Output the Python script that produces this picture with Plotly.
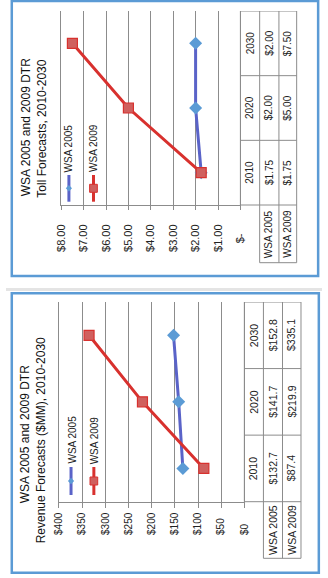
import plotly.graph_objects as go

# ---------------- data ----------------
years = ["2010", "2020", "2030"]
series_names = ["WSA 2005", "WSA 2009"]

toll_wsa2005 = [1.75, 2.00, 2.00]
toll_wsa2009 = [1.75, 5.00, 7.50]
toll_tick_vals = [0, 1, 2, 3, 4, 5, 6, 7, 8]
toll_tick_text = ["$-" + "\u00a0" * 3, "$1.00", "$2.00", "$3.00", "$4.00",
                  "$5.00", "$6.00", "$7.00", "$8.00"]
toll_title = ["WSA 2005 and 2009 DTR", "Toll Forecasts, 2010-2030"]

revenue_wsa2005 = [132.7, 141.7, 152.8]
revenue_wsa2009 = [87.4, 219.9, 335.1]
revenue_tick_vals = [0, 50, 100, 150, 200, 250, 300, 350, 400]
revenue_tick_text = ["$0" + "\u00a0" * 4, "$50" + "\u00a0" * 2, "$100", "$150",
                     "$200", "$250", "$300", "$350", "$400"]
revenue_title = ["WSA 2005 and 2009 DTR", "Revenue Forecasts ($MM), 2010-2030"]

# ---------------- styling ----------------
W, H = 328, 578
FONT = "Liberation Sans, Arial, sans-serif"
BLUE_LINE = "#5A63C8"
BLUE_MARK = "#5B9BD5"
RED_LINE = "#D8312E"
RED_MARK = "#D0605E"
GRID = "#8C8C8C"
BORDER = "#5B9BD5"
TXT = "#222222"


def px(x):
    return x / W


def py(y):
    return 1 - y / H


panels = [
    dict(ax="", vals=[toll_wsa2005, toll_wsa2009], fmt="${:.2f}",
         ticks=(toll_tick_vals, toll_tick_text), rng=[8, 0], title=toll_title,
         px0=57.3, px1=243.3, py0=11, py1=205,
         cols=[243.3, 263.3, 283.3, 301.7], box_bottom=262.7,
         border=(6, 1, 324, 276), tickfont=11, ticklen=4, standoff=10,
         tfont=10, lfont=10,
         title_pos=[(21, 127), (37, 129)],
         legend_x=[65.3, 90.8], legend_y=(175, 201.7), legend_mark=188.3),
    dict(ax="2", vals=[revenue_wsa2005, revenue_wsa2009], fmt="${:.1f}",
         ticks=(revenue_tick_vals, revenue_tick_text), rng=[400, 0], title=revenue_title,
         px0=55.0, px1=247.4, py0=302, py1=501.7,
         cols=[247.4, 267.2, 287.0, 306.2], box_bottom=558.3,
         border=(6, 293.3, 324.7, 572.8), tickfont=10, ticklen=5, standoff=1,
         tfont=10.5, lfont=10,
         title_pos=[(20, 434), (36.7, 440)],
         legend_x=[67.5, 91.2], legend_y=(467, 495), legend_mark=481),
]

fig = go.Figure()
shapes = []
annotations = []


def rot_text(x, y, text, size, yref="paper", color=TXT, yanchor="middle"):
    return dict(x=x, y=y, xref="paper", yref=yref, text=text, showarrow=False,
                textangle=-90, xanchor="center", yanchor=yanchor,
                font=dict(family=FONT, size=size, color=color))


# faint separator between the two chart objects
shapes.append(dict(type="line", xref="paper", yref="paper", x0=0, x1=1,
                   y0=py(289.5), y1=py(289.5), line=dict(color="#E4E4E4", width=3)))

for p in panels:
    ax = p["ax"]
    xa = "x" + ax
    ya = "y" + ax
    # traces
    styles = [
        dict(line=dict(color=BLUE_LINE, width=3),
             marker=dict(symbol="diamond", size=10, color=BLUE_MARK,
                         line=dict(color=BLUE_MARK, width=0))),
        dict(line=dict(color=RED_LINE, width=3),
             marker=dict(symbol="square", size=10, color=RED_MARK,
                         line=dict(color=RED_LINE, width=1.2))),
    ]
    for name, vals, st in zip(series_names, p["vals"], styles):
        fig.add_trace(go.Scatter(x=vals, y=years, name=name, mode="lines+markers",
                                 xaxis=xa, yaxis=ya, showlegend=False,
                                 line=st["line"], marker=st["marker"],
                                 hoverinfo="skip"))
    tv, tt = p["ticks"]
    fig.update_layout(**{
        "xaxis" + ax: dict(domain=[px(p["px0"]), px(p["px1"])], range=p["rng"],
                           anchor=ya, tickmode="array", tickvals=tv, ticktext=tt,
                           tickangle=-90, ticks="outside", ticklen=p["ticklen"],
                           tickcolor=GRID, tickwidth=1, showgrid=True,
                           gridcolor=GRID, gridwidth=1, showline=True,
                           linecolor=GRID, linewidth=1, zeroline=False,
                           ticklabelstandoff=p["standoff"],
                           tickfont=dict(family=FONT, size=p["tickfont"], color=TXT),
                           fixedrange=True),
        "yaxis" + ax: dict(domain=[py(p["py1"]), py(p["py0"])], anchor=xa,
                           type="category", categoryorder="array",
                           categoryarray=years, range=[-0.5, 2.5],
                           showticklabels=False, ticks="", showgrid=False,
                           showline=True, mirror=True, linecolor=GRID,
                           linewidth=1, zeroline=False, fixedrange=True),
    })

    # outer chart border
    bx0, by0, bx1, by1 = p["border"]
    shapes.append(dict(type="rect", xref="paper", yref="paper",
                       x0=px(bx0), x1=px(bx1), y0=py(by0), y1=py(by1),
                       line=dict(color=BORDER, width=2.5)))

    # data table
    c = p["cols"]
    tl = dict(color=GRID, width=1)
    shapes.append(dict(type="line", xref="paper", yref="paper", x0=px(c[0]), x1=px(c[0]),
                       y0=py(p["py0"]), y1=py(p["py1"]), line=tl))
    for cx in c[1:]:
        shapes.append(dict(type="line", xref="paper", yref="paper", x0=px(cx), x1=px(cx),
                           y0=py(p["py0"]), y1=py(p["box_bottom"]), line=tl))
    for b in [0.5, 1.5, 2.5]:
        shapes.append(dict(type="line", xref="paper", yref=ya, x0=px(c[0]), x1=px(c[3]),
                           y0=b, y1=b, line=tl))
    shapes.append(dict(type="line", xref="paper", yref="paper", x0=px(p["px1"]), x1=px(c[3]),
                       y0=py(p["py1"]), y1=py(p["py1"]), line=tl))
    shapes.append(dict(type="line", xref="paper", yref="paper", x0=px(c[1]), x1=px(c[3]),
                       y0=py(p["box_bottom"]), y1=py(p["box_bottom"]), line=tl))

    col_centers = [(c[i] + c[i + 1]) / 2 for i in range(3)]
    for i, yr in enumerate(years):
        annotations.append(rot_text(px(col_centers[0]), i, yr, p["tfont"], yref=ya))
        for j, vals in enumerate(p["vals"]):
            annotations.append(rot_text(px(col_centers[j + 1]), i,
                                        p["fmt"].format(vals[i]), p["tfont"], yref=ya))
    label_y = (p["py1"] + p["box_bottom"]) / 2
    for j, name in enumerate(series_names):
        annotations.append(rot_text(px(col_centers[j + 1]), py(label_y), name, p["tfont"]))

    # title
    for line_text, (tx, ty) in zip(p["title"], p["title_pos"]):
        annotations.append(rot_text(px(tx), py(ty), line_text, 12, color="#111111"))

    # legend (rotated)
    ly0, ly1 = p["legend_y"]
    lm = p["legend_mark"]
    for j, (name, lx) in enumerate(zip(series_names, p["legend_x"])):
        col = BLUE_LINE if j == 0 else RED_LINE
        shapes.append(dict(type="line", xref="paper", yref="paper", x0=px(lx), x1=px(lx),
                           y0=py(ly0), y1=py(ly1), line=dict(color=col, width=3)))
        if j == 0:
            d = 3.2
            path = "M {},{} L {},{} L {},{} L {},{} Z".format(
                px(lx), py(lm - d), px(lx + d), py(lm), px(lx), py(lm + d), px(lx - d), py(lm))
            shapes.append(dict(type="path", xref="paper", yref="paper", path=path,
                               fillcolor=BLUE_MARK, line=dict(color=BLUE_MARK, width=0)))
        else:
            d = 4
            shapes.append(dict(type="rect", xref="paper", yref="paper",
                               x0=px(lx - d), x1=px(lx + d), y0=py(lm - d), y1=py(lm + d),
                               fillcolor=RED_MARK, line=dict(color=RED_LINE, width=1)))
        annotations.append(rot_text(px(lx + 0.5), py(ly0 - 1), name, p["lfont"],
                                    yanchor="bottom"))

fig.update_layout(width=W, height=H, margin=dict(l=0, r=0, t=0, b=0, pad=0),
                  paper_bgcolor="white", plot_bgcolor="white",
                  shapes=shapes, annotations=annotations, showlegend=False)

fig.write_html("out.html", config={"displayModeBar": False})
